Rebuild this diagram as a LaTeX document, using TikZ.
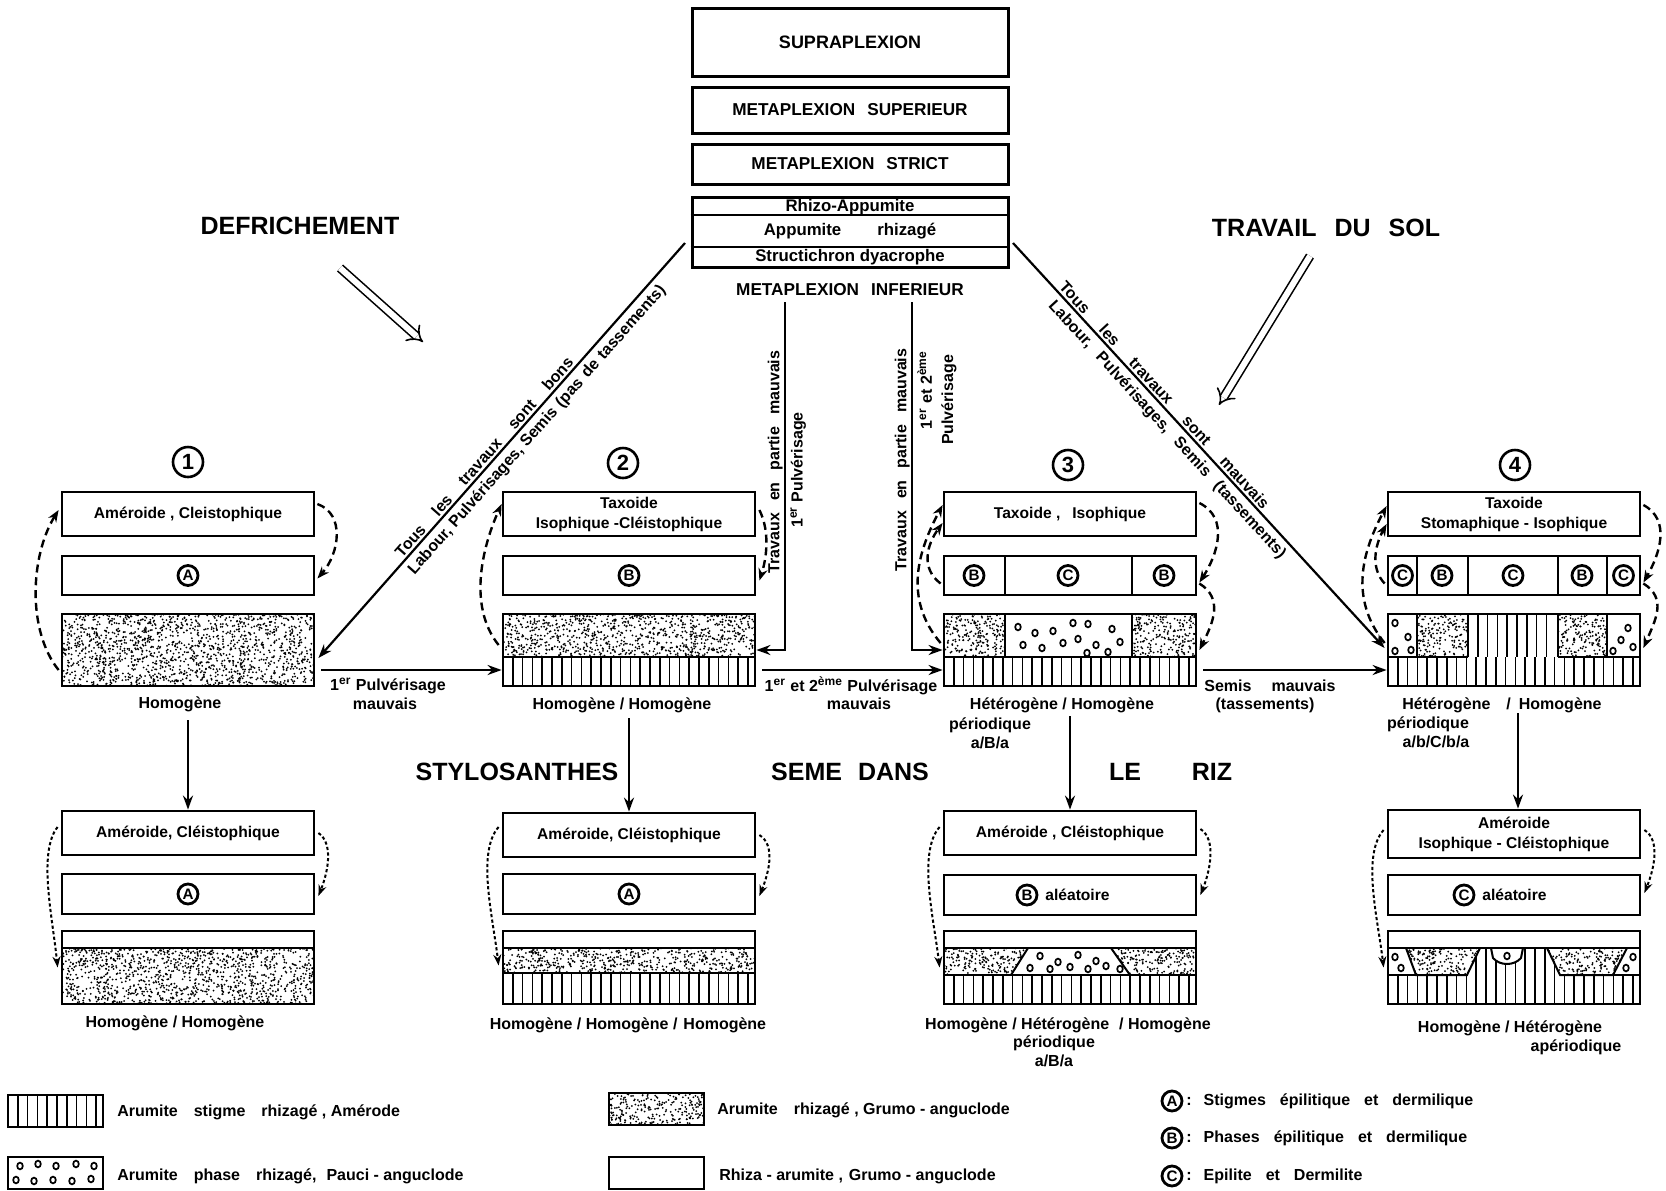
\documentclass[tikz,border=0pt]{standalone}
\usepackage{fontspec}
\setmainfont{Liberation Sans}
\usetikzlibrary{arrows.meta,calc}
\newcommand\fz[2]{\fontsize{#1}{#2}\selectfont\bfseries}
\newcommand\sk[1]{\hspace{#1}}
\newcommand\stip[4]{%
  \pgfmathsetmacro\stpW{#3-(#1)}%
  \pgfmathsetmacro\stpH{#4-(#2)}%
  \pgfmathtruncatemacro\stpN{(\stpW/12)*\stpH}%
  \foreach \i in {1,...,\stpN}{%
    \fill ({#1+rnd*\stpW},{#2+rnd*\stpH}) circle[radius=1.0];}%
}
\newcommand\vlin[4]{%
  \pgfmathtruncatemacro\vlN{(#3-(#1)-3)/9.8}%
  \foreach \k in {1,...,\vlN}{%
    \draw[line width=0.8pt] ({#1+\k*9.8},#2) -- ({#1+\k*9.8},#4);}%
}
\newcommand\circs[1]{%
  \foreach \cx/\cy in {#1}{%
    \draw[line width=0.85pt] (\cx,\cy) ellipse[x radius=2.8, y radius=3.4];}%
}
\tikzset{
  bx/.style={draw, line width=1.4pt, inner sep=0pt, align=center, minimum width=126pt, font=\fz{7.8}{10}},
  hb/.style={draw, line width=1.5pt, inner sep=0pt, minimum width=158pt, font=\fz{8.6}{10}},
  tx/.style={inner sep=0pt, align=center, font=\fz{8}{9.5}},
  ttl/.style={inner sep=0pt, font=\fz{12.5}{14}},
  cl/.style={circle, draw, line width=1.4pt, inner sep=0pt, minimum size=10pt, font=\fz{7.6}{7.6}},
  num/.style={circle, draw, line width=1.3pt, inner sep=0pt, minimum size=15pt, font=\fz{11}{11}},
  conn/.style={line width=1.1pt, -{Stealth[length=7pt,width=5pt]}},
  dsh/.style={line width=1.2pt, dash pattern=on 4pt off 2.4pt, -{Stealth[length=6pt,width=4.6pt]}},
  dtt/.style={line width=1pt, dash pattern=on 1.6pt off 1.2pt, -{Stealth[length=5.5pt,width=4pt]}},
  hol/.style={double, double distance=3pt, line width=0.8pt, -Implies},
  lgb/.style={draw, line width=1.4pt, inner sep=0pt, minimum width=47.5pt, minimum height=16pt},
  thin/.style={line width=1pt}
}
\begin{document}
\begin{tikzpicture}[x=0.5pt,y=-0.5pt]
\useasboundingbox (0,0) rectangle (1666,1190);
\pgfmathsetseed{7}

% ===== patterns, top row =====
\stip{62}{614}{314}{686}
\stip{503}{614}{755}{657}
\vlin{503}{657}{755}{686}
\stip{944}{614}{1005}{657}
\stip{1132}{614}{1196}{657}
\circs{1018/627,1035/633,1053/631,1073/623,1088/624,1112/629,1023/645,1042/648,1063/643,1078/639,1096/645,1120/642,1087/653,1108/652}
\vlin{944}{657}{1196}{686}
\circs{1395/623,1408/637,1395/651,1411/650}
\stip{1417}{614}{1468}{657}
\vlin{1468}{614}{1558}{657}
\stip{1558}{614}{1607}{657}
\circs{1628/628,1621/640,1613/651,1633/647}
\vlin{1388}{657}{1640}{686}
\draw[thin] (503,657) -- (755,657);
\draw[thin] (944,657) -- (1196,657) (1005,614) -- (1005,657) (1132,614) -- (1132,657);
\draw[thin] (1388,657) -- (1468,657) (1558,657) -- (1640,657)
  (1417,614) -- (1417,657) (1468,614) -- (1468,657) (1558,614) -- (1558,657) (1607,614) -- (1607,657);

% ===== patterns, bottom row =====
\stip{62}{948}{314}{1004}
\draw[thin] (62,948) -- (314,948);
\stip{503}{948}{755}{973}
\vlin{503}{973}{755}{1004}
\draw[thin] (503,948) -- (755,948) (503,973) -- (755,973);
% col 3
\begin{scope}\clip (944,948) -- (1028,948) -- (1011,975) -- (944,975) -- cycle; \stip{944}{948}{1028}{975}\end{scope}
\begin{scope}\clip (1111,948) -- (1196,948) -- (1196,975) -- (1130,975) -- cycle; \stip{1111}{948}{1196}{975}\end{scope}
\draw[thin] (1028,948) -- (1011,975) (1111,948) -- (1130,975);
\circs{1040/956,1058/962,1078/955,1096/961,1030/968,1050/969,1070/967,1088/969,1106/966,1120/969}
\vlin{944}{975}{1196}{1004}
\draw[thin] (944,948) -- (1196,948) (944,975) -- (1196,975);
% col 4
\vlin{1388}{948}{1640}{1004}
\fill[white] (1388,948) -- (1406,948) -- (1416,975) -- (1388,975) -- cycle;
\circs{1395/957,1401/968}
\fill[white] (1627,948) -- (1640,948) -- (1640,975) -- (1613,975) -- cycle;
\circs{1633/957,1626/968}
\fill[white] (1406,948) -- (1480,948) -- (1467,975) -- (1416,975) -- cycle;
\begin{scope}\clip (1406,948) -- (1480,948) -- (1467,975) -- (1416,975) -- cycle; \stip{1406}{948}{1480}{975}\end{scope}
\draw[thin] (1406,948) -- (1416,975) -- (1467,975) -- (1480,948);
\fill[white] (1547,948) -- (1627,948) -- (1613,975) -- (1560,975) -- cycle;
\begin{scope}\clip (1547,948) -- (1627,948) -- (1613,975) -- (1560,975) -- cycle; \stip{1547}{948}{1627}{975}\end{scope}
\draw[thin] (1547,948) -- (1560,975) -- (1613,975) -- (1627,948);
\filldraw[thin, fill=white] (1491,948) -- (1493,958) .. controls (1500,966) and (1514,966) .. (1521,958) -- (1523,948);
\circs{1507/956}
\draw[thin] (1388,948) -- (1640,948) (1388,975) -- (1416,975) (1613,975) -- (1640,975);

% ===== header =====
\node[hb, minimum height=34pt, font=\fz{9}{10}] (sup) at (850,42) {SUPRAPLEXION};
\node[hb, minimum height=23pt] (msu) at (850,110) {METAPLEXION\sk{6pt}SUPERIEUR};
\node[hb, minimum height=20pt] (mst) at (850,164) {METAPLEXION\sk{6pt}STRICT};
\node[hb, minimum height=35pt] (inf) at (850,232) {};
\draw[thin] (inf.west |- 0,215) -- (inf.east |- 0,215) (inf.west |- 0,247) -- (inf.east |- 0,247);
\node[tx, font=\fz{8.4}{9}] (ra) at (850,207) {Rhizo-Appumite};
\node[tx, font=\fz{8.4}{9}] (ar) at (850,231) {Appumite\sk{18pt}rhizagé};
\node[tx, font=\fz{8.4}{9}] (sd) at (850,257.5) {Structichron dyacrophe};
\node[tx, font=\fz{8.6}{10}] (minf) at (850,290) {METAPLEXION\sk{6pt}INFERIEUR};

% ===== titles =====
\node[ttl] (dfr) at (300,226) {DEFRICHEMENT};
\node[ttl] (tds) at (1326,228) {TRAVAIL\sk{9pt}DU\sk{9pt}SOL};
\coordinate (ha1) at (340,268); \coordinate (ha2) at (423,342);
\draw[hol] (ha1) -- (ha2);
\coordinate (hb1) at (1310,256); \coordinate (hb2) at (1219,405);
\draw[hol] (hb1) -- (hb2);

% ===== numbers =====
\node[num] (n1) at (188,462) {1};
\node[num] (n2) at (623,463) {2};
\node[num] (n3) at (1068,465) {3};
\node[num] (n4) at (1515,465) {4};

% ===== top row boxes =====
\node[bx, minimum height=22pt] (c1a) at (188,514) {Améroide , Cleistophique};
\node[bx, minimum height=19.5pt] (c1b) at (188,575.5) {};
\node[cl] (c1bA) at (c1b) {A};
\node[bx, minimum height=36pt] (c1s) at (188,650) {};

\node[bx, minimum height=22pt] (c2a) at (629,514) {Taxoide\\Isophique -Cléistophique};
\node[bx, minimum height=19.5pt] (c2b) at (629,575.5) {};
\node[cl] (c2bB) at (c2b) {B};
\node[bx, minimum height=36pt] (c2s) at (629,650) {};

\node[bx, minimum height=22pt] (c3a) at (1070,514) {Taxoide ,\sk{6pt}Isophique};
\node[bx, minimum height=19.5pt] (c3b) at (1070,575.5) {};
\draw[thin] (1005,556) -- (1005,595) (1132,556) -- (1132,595);
\node[cl] (c3b1) at (974,575.5) {B};
\node[cl] (c3b2) at (1068,575.5) {C};
\node[cl] (c3b3) at (1164,575.5) {B};
\node[bx, minimum height=36pt] (c3s) at (1070,650) {};

\node[bx, minimum height=22pt] (c4a) at (1514,514) {Taxoide\\Stomaphique - Isophique};
\node[bx, minimum height=19.5pt] (c4b) at (1514,575.5) {};
\draw[thin] (1417,556) -- (1417,595) (1468,556) -- (1468,595) (1558,556) -- (1558,595) (1607,556) -- (1607,595);
\node[cl] (c4b1) at (1402.5,575.5) {C};
\node[cl] (c4b2) at (1442,575.5) {B};
\node[cl] (c4b3) at (1513,575.5) {C};
\node[cl] (c4b4) at (1582,575.5) {B};
\node[cl] (c4b5) at (1623.5,575.5) {C};
\node[bx, minimum height=36pt] (c4s) at (1514,650) {};

% ===== bottom row boxes =====
\node[bx, minimum height=22pt] (c1A) at (188,833) {Améroide, Cléistophique};
\node[bx, minimum height=20pt] (c1B) at (188,894) {};
\node[cl] (c1BA) at (c1B) {A};
\node[bx, minimum height=36.5pt] (c1C) at (188,967.5) {};

\node[bx, minimum height=22pt] (c2A) at (629,835) {Améroide, Cléistophique};
\node[bx, minimum height=20pt] (c2B) at (629,894) {};
\node[cl] (c2BA) at (c2B) {A};
\node[bx, minimum height=36.5pt] (c2C) at (629,967.5) {};

\node[bx, minimum height=22pt] (c3A) at (1070,833) {Améroide , Cléistophique};
\node[bx, minimum height=20pt] (c3B) at (1070,895) {};
\node[cl] (c3BB) at (1027,895) {B};
\node[tx, font=\fz{7.8}{9}, anchor=west] (c3Bt) at (1045,895) {aléatoire};
\node[bx, minimum height=36.5pt] (c3C) at (1070,967.5) {};

\node[bx, minimum height=24pt] (c4A) at (1514,834) {Améroide\\Isophique - Cléistophique};
\node[bx, minimum height=20pt] (c4B) at (1514,895) {};
\node[cl] (c4BC) at (1464,895) {C};
\node[tx, font=\fz{7.8}{9}, anchor=west] (c4Bt) at (1482,895) {aléatoire};
\node[bx, minimum height=36.5pt] (c4C) at (1514,967.5) {};

% ===== diagonals =====
\coordinate (dl) at (685,243);
\draw[line width=1.1pt, {Stealth[length=7pt,width=5pt]}-] ($(c1s.east)+(3,8)$) --
  node[sloped, above, pos=0.47, tx, inner sep=1pt] {Tous\sk{9pt}les\sk{9pt}travaux\sk{9pt}sont\sk{9pt}bons}
  node[sloped, below, pos=0.57, tx, inner sep=2.2pt] {Labour, Pulvérisages, Semis\sk{3pt}(pas\sk{3pt}de\sk{3pt}tassements)} (dl);
\coordinate (dr) at (1013,243);
\draw[conn] (dr) --
  node[sloped, above, pos=0.39, tx, inner sep=1pt] {Tous\sk{11pt}les\sk{11pt}travaux\sk{11pt}sont\sk{11pt}mauvais}
  node[sloped, below, pos=0.44, tx, inner sep=2.2pt] {Labour,\sk{6pt}Pulvérisages,\sk{6pt}Semis\sk{6pt}(tassements)} ($(c4s.west)+(-2,-2)$);

% ===== verticals from metaplexion inferieur =====
\coordinate (lv) at (785,302);
\draw[conn] (lv) |- (c2s.east);
\coordinate (rv) at (912,302);
\draw[conn] (rv) |- (c3s.west);
\node[tx, rotate=90, anchor=south] (vt1) at (783,462) {Travaux\sk{6pt}en\sk{6pt}partie\sk{6pt}mauvais};
\node[tx, rotate=90, anchor=north] (vt2) at (790,470) {1\textsuperscript{er} Pulvérisage};
\node[tx, rotate=90, anchor=south] (vt3) at (910,460) {Travaux\sk{6pt}en\sk{6pt}partie\sk{6pt}mauvais};
\node[tx, rotate=90, anchor=north] (vt4) at (917,390) {1\textsuperscript{er} et 2\textsuperscript{ème}};
\node[tx, rotate=90, anchor=north] (vt5) at (941,400) {Pulvérisage};

% ===== horizontal arrows =====
\draw[conn] ($(c1s.east)+(6,20)$) -- ($(c2s.west)+(0,20)$);
\node[tx] (h1a) at (388,686) {1\textsuperscript{er} Pulvérisage};
\node[tx] (h1b) at (385,704) {mauvais};
\draw[conn] ($(c2s.east)+(6,20)$) -- ($(c3s.west)+(0,20)$);
\node[tx] (h2a) at (851,686) {1\textsuperscript{er} et 2\textsuperscript{ème} Pulvérisage};
\node[tx] (h2b) at (859,704) {mauvais};
\draw[conn] ($(c3s.east)+(6,20)$) -- ($(c4s.west)+(0,20)$);
\node[tx] (h3a) at (1270,686) {Semis\sk{10pt}mauvais};
\node[tx] (h3b) at (1265,705) {(tassements)};

% ===== captions top row =====
\node[tx] (t1) at (180,704) {Homogène};
\node[tx] (t2) at (622,705) {Homogène / Homogène};
\node[tx] (t3) at (1062,705) {Hétérogène / Homogène};
\node[tx] (t3b) at (990,725) {périodique};
\node[tx] (t3c) at (990,743) {a/B/a};
\node[tx] (t4) at (1502,705) {Hétérogène\sk{8pt}/\sk{4pt}Homogène};
\node[tx] (t4b) at (1428,724) {périodique};
\node[tx] (t4c) at (1436,742) {a/b/C/b/a};

% ===== row arrows =====
\coordinate (v1) at (188,720); \draw[conn] (v1) -- (c1A.north);
\coordinate (v2) at (629,718); \draw[conn] (v2) -- (c2A.north);
\coordinate (v3) at (1070,716); \draw[conn] (v3) -- (c3A.north);
\coordinate (v4) at (1518,713); \draw[conn] (v4) -- (c4A.north -| v4);

% ===== middle line =====
\node[ttl] (sty) at (517,772) {STYLOSANTHES};
\node[ttl] (sem) at (850,772) {SEME\sk{8pt}DANS};
\node[ttl] (le) at (1125,772) {LE};
\node[ttl] (riz) at (1212,772) {RIZ};

% ===== captions bottom row =====
\node[tx] (b1) at (175,1023) {Homogène / Homogène};
\node[tx] (b2) at (628,1025) {Homogène / Homogène /\sk{3pt}Homogène};
\node[tx] (b3) at (1068,1025) {Homogène / Hétérogène\sk{5pt}/ Homogène};
\node[tx] (b3b) at (1054,1043) {périodique};
\node[tx] (b3c) at (1054,1061) {a/B/a};
\node[tx] (b4) at (1510,1028) {Homogène / Hétérogène};
\node[tx] (b4b) at (1576,1047) {apériodique};

% ===== dashed cycles, top row =====
\draw[dsh] ($(c1s.west)+(-2,20)$) .. controls +(-32,-40) and +(-28,45) .. ($(c1a.west)+(-2,-4)$);
\draw[dsh] ($(c1a.east)+(2,-10)$) .. controls +(28,10) and +(22,-25) .. ($(c1b.east)+(2,3)$);
\draw[dsh] ($(c2s.west)+(-3,-5)$) .. controls +(-32,-40) and +(-18,40) .. ($(c2a.west)+(0,-10)$);
\draw[dsh] ($(c2a.east)+(3,-4)$) .. controls +(10,20) and +(8,-25) .. ($(c2b.east)+(3,5)$);
\draw[dsh] ($(c3s.west)+(-2,-7)$) .. controls +(-38,-45) and +(-24,45) .. ($(c3a.west)+(0,-9)$);
\draw[dsh] ($(c3b.west)+(-2,8)$) .. controls +(-20,-15) and +(-16,22) .. ($(c3a.west)+(0,9)$);
\draw[dsh] ($(c3a.east)+(2,-11)$) .. controls +(30,15) and +(18,-28) .. ($(c3b.east)+(2,7)$);
\draw[dsh] ($(c3b.east)+(2,8)$) .. controls +(24,15) and +(14,-28) .. ($(c3s.east)+(2,0)$);
\draw[dsh] ($(c4s.west)+(-2,-7)$) .. controls +(-36,-45) and +(-24,45) .. ($(c4a.west)+(0,-8)$);
\draw[dsh] ($(c4b.west)+(-2,8)$) .. controls +(-14,-15) and +(-12,22) .. ($(c4a.west)+(0,10)$);
\draw[dsh] ($(c4a.east)+(2,-9)$) .. controls +(28,15) and +(16,-28) .. ($(c4b.east)+(2,7)$);
\draw[dsh] ($(c4b.east)+(2,8)$) .. controls +(24,15) and +(12,-28) .. ($(c4s.east)+(2,-2)$);

% ===== dotted, bottom row =====
\draw[dtt] ($(c1A.west)+(-3,-6)$) .. controls +(-20,25) and +(-5,-50) .. ($(c1C.west)+(-3,0)$);
\draw[dtt] ($(c1A.east)+(3,0)$) .. controls +(15,10) and +(10,-25) .. ($(c1B.east)+(3,2)$);
\draw[dtt] ($(c2A.west)+(-3,-8)$) .. controls +(-22,25) and +(-6,-50) .. ($(c2C.west)+(-3,-2)$);
\draw[dtt] ($(c2A.east)+(3,0)$) .. controls +(16,10) and +(10,-25) .. ($(c2B.east)+(3,2)$);
\draw[dtt] ($(c3A.west)+(-3,-6)$) .. controls +(-22,25) and +(-6,-50) .. ($(c3C.west)+(-3,0)$);
\draw[dtt] ($(c3A.east)+(3,-4)$) .. controls +(16,10) and +(10,-25) .. ($(c3B.east)+(3,0)$);
\draw[dtt] ($(c4A.west)+(-3,-4)$) .. controls +(-22,25) and +(-6,-50) .. ($(c4C.west)+(-3,0)$);
\draw[dtt] ($(c4A.east)+(3,-4)$) .. controls +(16,10) and +(10,-25) .. ($(c4B.east)+(3,-2)$);

% ===== legend =====
\vlin{8}{1095}{103}{1127}
\node[lgb] (lg1) at (55.5,1111) {};
\node[tx, anchor=west] (lt1) at (117,1112) {Arumite\sk{8pt}stigme\sk{8pt}rhizagé , Amérode};
\circs{20/1166,38/1164,56/1166,76/1164,94/1166,16/1180,34/1181,53/1180,72/1181,91/1179}
\node[lgb] (lg2) at (55.5,1173) {};
\node[tx, anchor=west] (lt2) at (117,1176) {Arumite\sk{8pt}phase\sk{8pt}rhizagé,\sk{5pt}Pauci - anguclode};
\stip{609}{1093}{704}{1125}
\node[lgb] (lg3) at (656.5,1109) {};
\node[tx, anchor=west] (lt3) at (717,1110) {Arumite\sk{8pt}rhizagé , Grumo - anguclode};
\node[lgb] (lg4) at (656.5,1173) {};
\node[tx, anchor=west] (lt4) at (719,1176) {Rhiza - arumite ,\sk{3pt}Grumo - anguclode};
\node[cl] (la) at (1172,1101) {A};
\node[tx, anchor=west] (lta) at (1186,1101) {:\sk{6pt}Stigmes\sk{7pt}épilitique\sk{7pt}et\sk{7pt}dermilique};
\node[cl] (lb) at (1172,1138) {B};
\node[tx, anchor=west] (ltb) at (1186,1138) {:\sk{6pt}Phases\sk{7pt}épilitique\sk{7pt}et\sk{7pt}dermilique};
\node[cl] (lc) at (1172,1176) {C};
\node[tx, anchor=west] (ltc) at (1186,1176) {:\sk{6pt}Epilite\sk{7pt}et\sk{7pt}Dermilite};
\end{tikzpicture}
\end{document}
